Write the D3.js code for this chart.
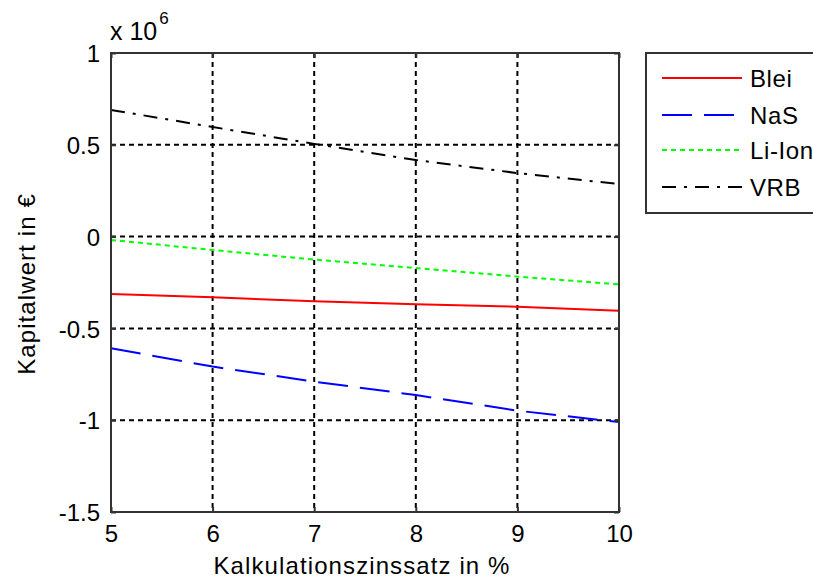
<!DOCTYPE html>
<html><head><meta charset="utf-8">
<script src="https://cdn.jsdelivr.net/npm/d3@7"></script>
<style>body{margin:0;background:#fff}svg{display:block}text{font-family:"Liberation Sans",Arial,sans-serif}</style>
</head><body><svg id="c" width="813" height="580"></svg>
<script>
const rates = [5, 6, 7, 8, 9, 10];
const blei  = [-0.313, -0.331, -0.352, -0.369, -0.382, -0.404];
const nas   = [-0.608, -0.708, -0.790, -0.863, -0.948, -1.010];
const liion = [-0.018, -0.073, -0.125, -0.171, -0.218, -0.260];
const vrb   = [0.690, 0.597, 0.505, 0.417, 0.346, 0.286];
const seriesNames = ["Blei", "NaS", "Li-Ion", "VRB"];
const xTicks = [5, 6, 7, 8, 9, 10];
const yTicks = [-1.5, -1, -0.5, 0, 0.5, 1];

const svg = d3.select("#c");
const L = 111, R = 619, T = 53, B = 512;
const x = d3.scaleLinear().domain([5, 10]).range([L, R]);
const y = d3.scaleLinear().domain([-1.5, 1]).range([B, T]);

// grid
const g = svg.append("g");
g.selectAll(".gx").data(xTicks.slice(1, -1)).join("line")
  .attr("x1", d => x(d)).attr("x2", d => x(d)).attr("y1", T).attr("y2", B)
  .attr("stroke", "#000").attr("stroke-width", 2).attr("stroke-dasharray", "5,4");
g.selectAll(".gy").data(yTicks.slice(1, -1)).join("line")
  .attr("y1", d => y(d)).attr("y2", d => y(d)).attr("x1", L).attr("x2", R)
  .attr("stroke", "#000").attr("stroke-width", 2).attr("stroke-dasharray", "5,4");

// series
const styles = [
  {data: blei, color: "#ff0000", dash: null},
  {data: nas, color: "#0000ff", dash: "30,12"},
  {data: liion, color: "#00ff00", dash: "5,4"},
  {data: vrb, color: "#000000", dash: "14,8,3,8"}
];
const line = d3.line().x((d, i) => x(rates[i])).y(d => y(d));
styles.forEach(s => {
  svg.append("path").attr("d", line(s.data)).attr("fill", "none")
    .attr("stroke", s.color).attr("stroke-width", 2)
    .attr("stroke-dasharray", s.dash);
});

// axes box
svg.append("rect").attr("x", L).attr("y", T).attr("width", R - L).attr("height", B - T)
  .attr("fill", "none").attr("stroke", "#333").attr("stroke-width", 2);

const fmt = d => String(d);
const tk = 5;
const ax = svg.append("g").attr("transform", `translate(0,${B})`)
  .call(d3.axisBottom(x).tickValues(xTicks).tickSize(-tk).tickPadding(12).tickFormat(fmt));
const axT = svg.append("g").attr("transform", `translate(0,${T})`)
  .call(d3.axisTop(x).tickValues(xTicks).tickSize(-tk).tickFormat(""));
const ay = svg.append("g").attr("transform", `translate(${L},0)`)
  .call(d3.axisLeft(y).tickValues(yTicks).tickSize(-tk).tickPadding(11).tickFormat(fmt));
const ayR = svg.append("g").attr("transform", `translate(${R},0)`)
  .call(d3.axisRight(y).tickValues(yTicks).tickSize(-tk).tickFormat(""));
[ax, axT, ay, ayR].forEach(a => {
  a.select(".domain").remove();
  a.selectAll(".tick line").attr("stroke", "#333").attr("stroke-width", 2);
  a.selectAll(".tick text").attr("fill", "#000").style("font-size", "24px")
    .style("font-family", '"Liberation Sans",Arial,sans-serif');
});
ax.selectAll(".tick text").attr("dy", "0.75em");
ay.selectAll(".tick text").attr("dy", "0.36em");

// labels
svg.append("text").attr("x", (L + R) / 2 - 3).attr("y", 574).attr("text-anchor", "middle")
  .style("font-size", "24px").style("letter-spacing", "1.1px").text("Kalkulationszinssatz in %");
svg.append("text").attr("transform", "translate(35,284) rotate(-90)").attr("text-anchor", "middle")
  .style("font-size", "24px").style("letter-spacing", "1.1px").text("Kapitalwert in €");
const ttl = svg.append("text").attr("x", 110).attr("y", 40).style("font-size", "25px");
ttl.append("tspan").text("x 10");
ttl.append("tspan").attr("dy", -16).attr("dx", 2).style("font-size", "17px").text("6");

// legend
const lg = svg.append("g");
lg.append("rect").attr("x", 646).attr("y", 53).attr("width", 180).attr("height", 160)
  .attr("fill", "#fff").attr("stroke", "#333").attr("stroke-width", 2);
const rowsY = [78, 115, 150, 187];
styles.forEach((s, i) => {
  lg.append("line").attr("x1", 662).attr("x2", 742).attr("y1", rowsY[i]).attr("y2", rowsY[i])
    .attr("stroke", s.color).attr("stroke-width", 2).attr("stroke-dasharray", s.dash);
  lg.append("text").attr("x", 750).attr("y", rowsY[i]).attr("dy", "0.36em")
    .style("font-size", "24px").style("letter-spacing", "0.6px").text(seriesNames[i]);
});
</script></body></html>
